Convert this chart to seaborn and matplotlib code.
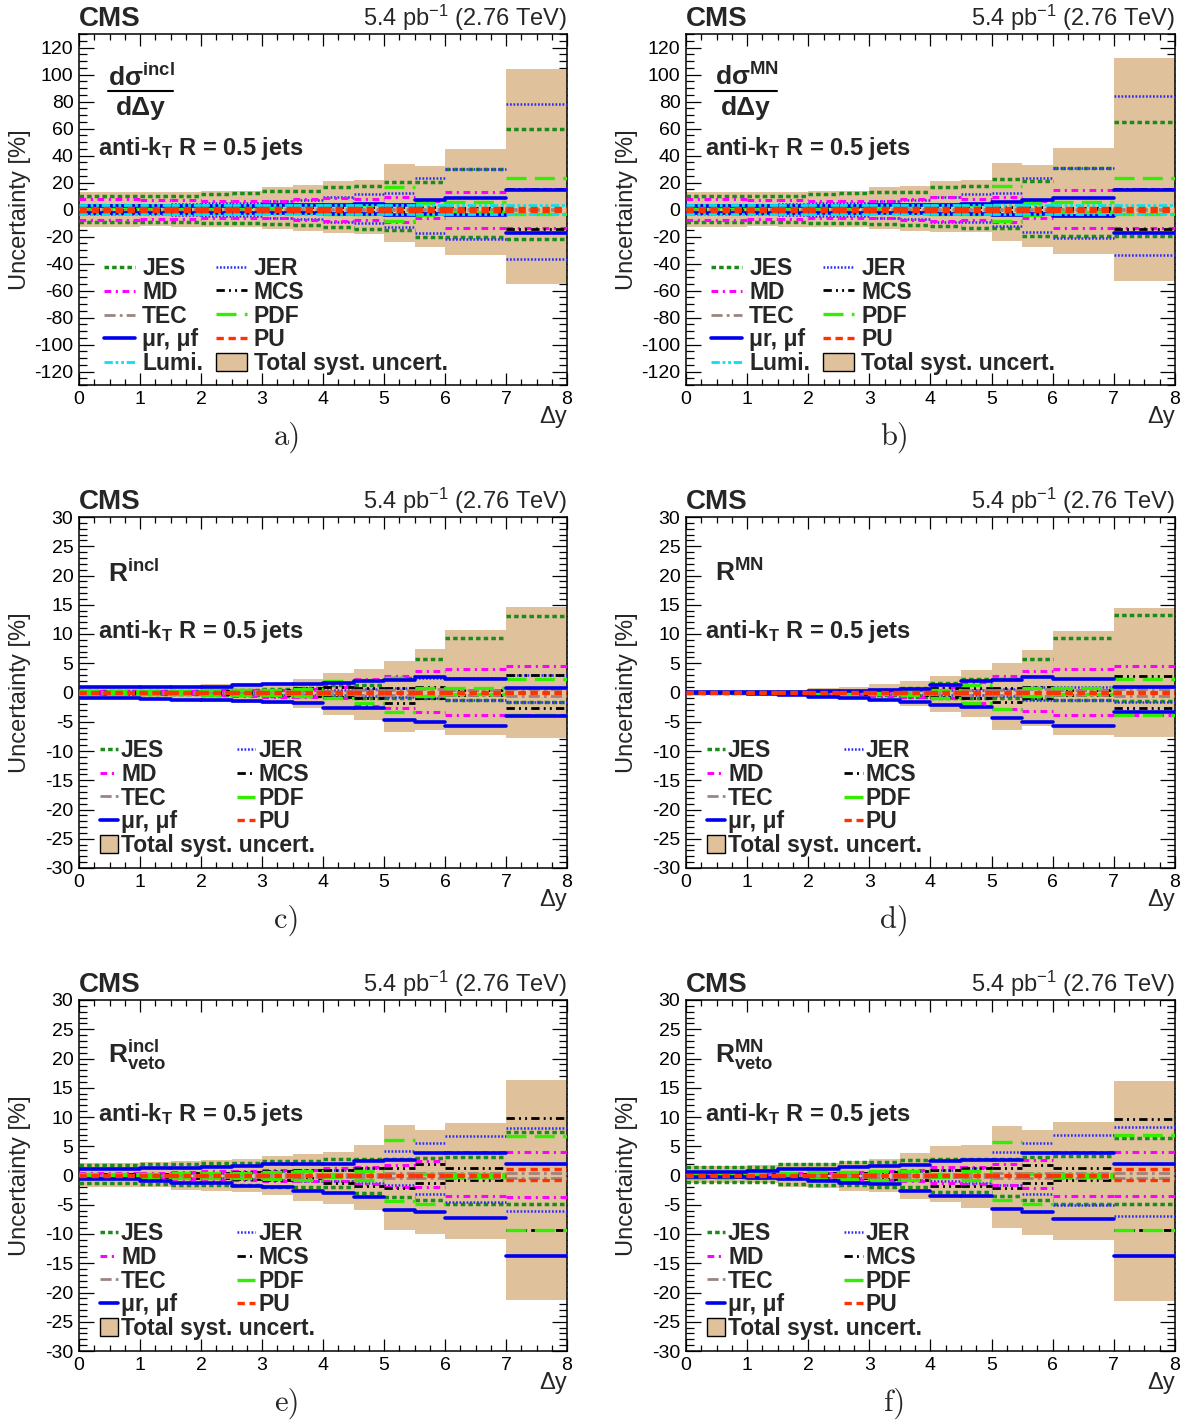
import matplotlib
matplotlib.use("Agg")
import matplotlib.pyplot as plt
import seaborn as sns
import pandas as pd
from matplotlib.lines import Line2D
from matplotlib.patches import Patch
from matplotlib.ticker import MultipleLocator

sns.set_style("ticks")
plt.rcParams['font.family'] = ['Liberation Sans', 'DejaVu Sans']
plt.rcParams['mathtext.default'] = 'regular'
plt.rcParams['axes.unicode_minus'] = False

# ---------------- data ----------------
EDGES = [0, 1, 1.5, 2, 2.5, 3, 3.5, 4, 4.5, 5, 5.5, 6, 7, 8]

A_UP = {
    'TOTAL': [13.2, 12.8, 12.8, 13.5, 14.0, 16.9, 18.1, 21.3, 21.8, 33.6, 32.1, 44.7, 104.3],
    'JES': [10.2, 10.0, 10.0, 11.8, 12.0, 13.7, 13.7, 16.9, 17.6, 20.7, 20.5, 29.9, 59.5],
    'JER': [3.5, 3.5, 4.0, 4.5, 5.0, 6.0, 7.0, 9.5, 11.2, 12.0, 23.0, 30.0, 78.4],
    'MD': [7.5, 7.0, 7.0, 6.0, 6.0, 6.5, 7.5, 8.3, 8.0, 9.0, 6.5, 13.2, 15.0],
    'MCS': [1.0, 1.0, 1.0, 1.0, 1.5, 1.5, 1.5, 1.5, 2.0, 2.0, 2.0, 1.0, 15.0],
    'TEC': [0.5, 0.5, 0.5, 0.5, 0.5, 0.5, 0.5, 0.6, 0.6, 0.6, 0.6, 0.6, 0.6],
    'PDF': [1.5, 1.5, 1.5, 2.0, 2.0, 2.0, 2.5, 3.0, 3.0, 16.9, 4.6, 5.8, 23.5],
    'MU': [2.8, 2.8, 2.8, 2.8, 2.8, 3.0, 3.0, 3.5, 4.0, 3.0, 7.0, 8.7, 14.4],
    'LUMI': [3.7, 3.7, 3.7, 3.7, 3.7, 3.7, 3.7, 3.7, 3.7, 3.7, 3.7, 3.7, 3.7],
    'PU': [1.0, 1.0, 1.0, 1.0, 1.0, 1.0, 1.0, 1.0, 1.0, 1.0, 1.0, 1.0, 1.0],
}
A_DN = {
    'TOTAL': [-12.7, -12.4, -12.6, -12.8, -13.2, -14.4, -15.8, -17.6, -18.0, -23.8, -28.0, -33.6, -55.0],
    'JES': [-9.0, -9.0, -9.5, -10.2, -10.2, -11.0, -11.5, -13.0, -14.4, -15.1, -20.0, -20.0, -22.0],
    'JER': [-3.5, -3.5, -4.0, -4.5, -5.0, -6.0, -7.0, -9.5, -9.7, -12.7, -17.6, -22.0, -36.3],
    'MD': [-7.5, -7.0, -7.0, -6.0, -6.0, -6.5, -7.5, -8.2, -8.0, -9.0, -6.5, -13.4, -14.0],
    'MCS': [-1.0, -1.0, -1.0, -1.0, -1.5, -1.5, -1.5, -1.5, -2.0, -2.0, -2.0, -1.0, -14.6],
    'TEC': [-0.5, -0.5, -0.5, -0.5, -0.5, -0.5, -0.5, -0.6, -0.6, -0.6, -0.6, -0.6, -0.6],
    'PDF': [-1.5, -1.5, -1.5, -2.0, -2.0, -2.0, -2.5, -3.0, -3.0, -8.2, -4.0, -2.0, -3.0],
    'MU': [-2.4, -2.4, -2.4, -2.4, -2.4, -2.6, -2.8, -3.0, -3.5, -4.0, -3.6, -4.1, -17.6],
    'LUMI': [-3.7, -3.7, -3.7, -3.7, -3.7, -3.7, -3.7, -3.7, -3.7, -3.7, -3.7, -3.7, -3.7],
    'PU': [-1.0, -1.0, -1.0, -1.0, -1.0, -1.0, -1.0, -1.0, -1.0, -1.0, -1.0, -1.0, -1.0],
}

B_UP = {
    'TOTAL': [13.2, 12.8, 12.8, 13.5, 14.0, 16.9, 17.4, 21.3, 21.8, 34.1, 32.9, 45.9, 112.4],
    'JES': [10.2, 10.0, 10.0, 11.8, 12.0, 13.2, 13.2, 16.9, 17.6, 22.5, 21.0, 30.6, 64.9],
    'JER': [3.5, 3.5, 4.0, 4.5, 5.0, 6.0, 7.0, 9.5, 11.4, 12.0, 23.5, 30.6, 84.0],
    'MD': [7.5, 7.0, 7.0, 6.0, 6.0, 6.5, 7.5, 9.5, 8.0, 9.5, 6.5, 14.4, 15.0],
    'MCS': [1.0, 1.0, 1.0, 1.0, 1.5, 1.5, 1.5, 1.5, 2.0, 2.0, 2.0, 1.0, 15.0],
    'TEC': [0.5, 0.5, 0.5, 0.5, 0.5, 0.5, 0.5, 0.6, 0.6, 0.6, 0.6, 0.6, 0.6],
    'PDF': [1.5, 1.5, 1.5, 2.0, 2.0, 2.0, 2.5, 3.0, 3.0, 17.4, 4.6, 5.8, 23.5],
    'MU': [2.8, 2.8, 2.8, 2.8, 2.8, 3.0, 3.0, 3.5, 4.0, 5.3, 7.0, 8.3, 14.4],
    'LUMI': [3.7, 3.7, 3.7, 3.7, 3.7, 3.7, 3.7, 3.7, 3.7, 3.7, 3.7, 3.7, 3.7],
    'PU': [1.0, 1.0, 1.0, 1.0, 1.0, 1.0, 1.0, 1.0, 1.0, 1.0, 1.0, 1.0, 1.0],
}
B_DN = {
    'TOTAL': [-12.7, -12.4, -12.6, -12.8, -13.2, -14.4, -15.8, -16.9, -16.4, -23.0, -27.5, -32.9, -52.8],
    'JES': [-9.0, -9.0, -9.5, -10.2, -10.2, -11.0, -11.5, -12.0, -13.9, -13.9, -19.6, -19.6, -19.3],
    'JER': [-3.5, -3.5, -4.0, -4.5, -5.0, -6.0, -7.0, -9.5, -9.5, -12.5, -16.8, -21.3, -34.0],
    'MD': [-7.5, -7.0, -7.0, -6.0, -6.0, -6.5, -7.5, -8.5, -8.0, -9.0, -6.5, -13.4, -14.0],
    'MCS': [-1.0, -1.0, -1.0, -1.0, -1.5, -1.5, -1.5, -1.5, -2.0, -2.0, -2.0, -1.0, -14.6],
    'TEC': [-0.5, -0.5, -0.5, -0.5, -0.5, -0.5, -0.5, -0.6, -0.6, -0.6, -0.6, -0.6, -0.6],
    'PDF': [-1.5, -1.5, -1.5, -2.0, -2.0, -2.0, -2.5, -3.0, -3.0, -8.5, -4.0, -2.0, -3.0],
    'MU': [-2.4, -2.4, -2.4, -2.4, -2.4, -2.6, -2.8, -3.0, -3.5, -4.0, -3.6, -4.6, -17.6],
    'LUMI': [-3.7, -3.7, -3.7, -3.7, -3.7, -3.7, -3.7, -3.7, -3.7, -3.7, -3.7, -3.7, -3.7],
    'PU': [-1.0, -1.0, -1.0, -1.0, -1.0, -1.0, -1.0, -1.0, -1.0, -1.0, -1.0, -1.0, -1.0],
}

C_UP = {
    'TOTAL': [1.0, 1.0, 1.0, 1.45, 1.6, 1.7, 2.3, 3.3, 4.1, 5.4, 7.4, 10.7, 14.6],
    'JES': [0.3, 0.3, 0.3, 0.4, 0.5, 0.6, 0.7, 1.2, 1.2, 2.4, 5.7, 9.4, 13.1],
    'JER': [0.2, 0.2, 0.2, 0.3, 0.3, 0.4, 0.5, 0.5, 0.6, 0.8, 2.5, 2.4, 3.0],
    'MD': [0.3, 0.3, 0.3, 0.4, 0.4, 0.5, 0.6, 1.0, 2.3, 2.8, 3.6, 4.0, 4.5],
    'MCS': [0.1, 0.1, 0.1, 0.2, 0.3, 0.5, 0.8, 1.0, 0.7, 0.8, 1.0, 0.5, 3.0],
    'TEC': [0.1, 0.1, 0.1, 0.1, 0.2, 0.2, 0.3, 0.3, 0.4, 0.5, 0.6, 0.5, 0.6],
    'PDF': [0.3, 0.3, 0.3, 0.4, 0.4, 0.4, 0.6, 1.9, 2.2, 2.4, 0.7, 0.7, 2.3],
    'MU': [1.0, 0.9, 0.9, 1.0, 1.2, 1.4, 1.5, 1.7, 1.9, 2.2, 2.7, 2.3, 0.7],
    'PU': [0.05, 0.05, 0.05, 0.05, 0.05, 0.05, 0.05, 0.05, 0.05, 0.05, 0.05, 0.05, 0.05],
}
C_DN = {
    'TOTAL': [-1.1, -1.3, -1.4, -1.7, -1.85, -2.0, -2.7, -3.8, -4.7, -6.8, -6.4, -7.3, -7.7],
    'JES': [-0.3, -0.3, -0.3, -0.4, -0.5, -0.6, -0.6, -0.8, -0.9, -1.0, -1.0, -1.2, -1.6],
    'JER': [-0.2, -0.2, -0.2, -0.3, -0.3, -0.4, -0.5, -0.5, -0.6, -0.8, -1.0, -1.2, -1.7],
    'MD': [-0.3, -0.3, -0.3, -0.4, -0.6, -0.7, -0.8, -1.0, -2.3, -2.7, -3.3, -3.8, -3.9],
    'MCS': [-0.1, -0.1, -0.1, -0.2, -0.3, -0.5, -0.6, -0.8, -1.0, -1.85, -1.0, -0.5, -2.7],
    'TEC': [-0.1, -0.1, -0.1, -0.1, -0.2, -0.2, -0.3, -0.3, -0.4, -0.5, -0.6, -0.5, -0.6],
    'PDF': [-0.3, -0.3, -0.3, -0.4, -0.4, -0.4, -0.6, -1.0, -1.85, -3.3, -0.6, -0.3, -3.8],
    'MU': [-0.9, -1.1, -1.3, -1.3, -1.5, -1.7, -1.85, -2.6, -2.6, -4.7, -5.1, -5.7, -4.0],
    'PU': [-0.05, -0.05, -0.05, -0.05, -0.05, -0.05, -0.05, -0.05, -0.05, -0.05, -0.05, -0.05, -0.05],
}

D_UP = {
    'TOTAL': [0.2, 0.4, 0.5, 0.7, 1.0, 1.45, 2.0, 2.9, 3.85, 5.0, 7.3, 10.5, 14.4],
    'JES': [0.05, 0.1, 0.15, 0.2, 0.3, 0.5, 0.8, 1.6, 2.3, 2.3, 5.7, 9.4, 13.2],
    'JER': [0.05, 0.1, 0.1, 0.2, 0.2, 0.3, 0.5, 0.5, 0.5, 0.6, 1.0, 1.0, 1.0],
    'MD': [0.05, 0.1, 0.1, 0.2, 0.3, 0.3, 0.5, 1.0, 1.8, 2.8, 3.6, 4.0, 4.5],
    'MCS': [0.05, 0.05, 0.1, 0.1, 0.2, 0.3, 0.5, 0.8, 0.7, 0.8, 1.0, 0.5, 2.8],
    'TEC': [0.05, 0.05, 0.05, 0.1, 0.1, 0.2, 0.2, 0.3, 0.4, 0.5, 0.6, 0.5, 0.6],
    'PDF': [0.05, 0.1, 0.1, 0.2, 0.2, 0.3, 0.4, 0.5, 1.2, 2.3, 0.7, 0.7, 2.3],
    'MU': [0.05, 0.1, 0.15, 0.2, 0.3, 0.5, 0.6, 1.3, 1.9, 2.2, 2.7, 2.3, 0.9],
    'PU': [0.05, 0.05, 0.05, 0.05, 0.05, 0.05, 0.05, 0.05, 0.05, 0.05, 0.05, 0.05, 0.05],
}
D_DN = {
    'TOTAL': [-0.2, -0.4, -0.6, -0.8, -1.1, -1.4, -2.25, -3.4, -4.2, -6.4, -5.8, -7.3, -7.6],
    'JES': [-0.05, -0.1, -0.15, -0.2, -0.3, -0.5, -0.7, -0.9, -1.0, -1.0, -1.1, -1.2, -1.4],
    'JER': [-0.05, -0.1, -0.1, -0.2, -0.2, -0.3, -0.5, -0.5, -0.5, -0.6, -1.2, -1.2, -1.6],
    'MD': [-0.05, -0.1, -0.1, -0.2, -0.3, -0.6, -0.8, -1.0, -1.8, -2.8, -3.2, -3.8, -3.9],
    'MCS': [-0.05, -0.05, -0.1, -0.1, -0.2, -0.3, -0.5, -0.8, -1.0, -1.7, -1.0, -0.5, -2.7],
    'TEC': [-0.05, -0.05, -0.05, -0.1, -0.1, -0.2, -0.2, -0.3, -0.4, -0.5, -0.6, -0.5, -0.6],
    'PDF': [-0.05, -0.1, -0.1, -0.2, -0.2, -0.3, -0.4, -1.0, -1.85, -2.9, -0.6, -0.3, -3.8],
    'MU': [-0.1, -0.2, -0.4, -0.7, -0.9, -1.3, -1.6, -2.2, -2.5, -4.4, -5.0, -5.8, -3.3],
    'PU': [-0.05, -0.05, -0.05, -0.05, -0.05, -0.05, -0.05, -0.05, -0.05, -0.05, -0.05, -0.05, -0.05],
}

E_UP = {
    'TOTAL': [2.1, 2.25, 2.5, 2.65, 2.9, 3.3, 3.7, 4.1, 5.2, 8.6, 7.7, 9.0, 16.4],
    'JES': [1.8, 2.0, 2.0, 2.1, 2.1, 2.4, 2.5, 2.8, 2.9, 2.8, 3.0, 3.1, 7.4],
    'JER': [0.3, 0.3, 0.4, 0.5, 0.6, 0.8, 0.9, 1.0, 1.2, 4.2, 5.5, 6.8, 8.1],
    'MD': [0.5, 0.5, 0.6, 0.7, 0.8, 0.9, 1.0, 1.3, 1.5, 1.8, 2.5, 4.1, 4.1],
    'MCS': [0.3, 0.3, 0.4, 0.5, 0.6, 0.7, 0.9, 1.0, 1.2, 1.2, 1.9, 1.2, 9.8],
    'TEC': [0.1, 0.1, 0.1, 0.2, 0.2, 0.2, 0.3, 0.3, 0.3, 0.4, 0.4, 0.4, 0.5],
    'PDF': [0.3, 0.3, 0.4, 0.5, 0.5, 0.6, 0.7, 0.3, 0.7, 6.1, 0.3, 0.3, 6.8],
    'MU': [1.1, 1.2, 1.2, 1.5, 1.7, 1.9, 1.9, 2.0, 2.5, 2.65, 3.9, 3.8, 1.9],
    'PU': [0.1, 0.1, 0.1, 0.1, 0.1, 0.1, 0.1, 0.1, 0.1, 0.1, 0.1, 0.1, 1.1],
}
E_DN = {
    'TOTAL': [-1.9, -2.0, -2.5, -2.6, -2.9, -3.3, -4.3, -4.8, -5.9, -9.3, -10.0, -10.9, -21.2],
    'JES': [-1.2, -1.45, -1.6, -1.6, -1.6, -1.9, -2.0, -2.0, -3.0, -3.6, -4.2, -4.9, -4.9],
    'JER': [-0.3, -0.3, -0.4, -0.5, -0.6, -0.8, -0.9, -1.0, -1.2, -1.6, -3.2, -4.6, -6.0],
    'MD': [-0.5, -0.5, -0.6, -0.7, -0.8, -0.9, -1.0, -1.0, -1.5, -1.9, -1.9, -3.5, -3.6],
    'MCS': [-0.3, -0.3, -0.4, -0.5, -0.6, -0.7, -0.5, -1.3, -1.8, -2.2, -1.3, -0.8, -9.3],
    'TEC': [-0.1, -0.1, -0.1, -0.2, -0.2, -0.2, -0.3, -0.3, -0.3, -0.4, -0.4, -0.4, -0.5],
    'PDF': [-0.3, -0.3, -0.4, -0.5, -0.5, -0.6, -0.7, -0.3, -0.7, -4.4, -4.9, -0.3, -9.3],
    'MU': [-0.6, -0.9, -1.2, -1.35, -1.75, -1.9, -2.6, -3.0, -3.6, -5.9, -6.2, -7.3, -13.8],
    'PU': [-0.1, -0.1, -0.1, -0.1, -0.1, -0.1, -0.1, -0.1, -0.1, -0.1, -0.1, -0.1, -0.8],
}

F_UP = {
    'TOTAL': [1.6, 1.8, 2.1, 2.2, 2.5, 2.8, 3.9, 5.0, 5.2, 8.5, 7.8, 9.1, 16.2],
    'JES': [1.5, 1.5, 1.95, 2.0, 2.25, 2.25, 2.6, 2.8, 2.9, 2.9, 3.1, 3.3, 6.4],
    'JER': [0.2, 0.2, 0.3, 0.4, 0.5, 0.7, 0.8, 1.0, 1.2, 4.1, 5.5, 6.9, 8.3],
    'MD': [0.3, 0.3, 0.4, 0.5, 0.6, 0.8, 1.0, 1.5, 1.5, 2.0, 2.6, 4.1, 4.1],
    'MCS': [0.2, 0.2, 0.3, 0.4, 0.5, 0.6, 0.8, 1.0, 1.2, 1.2, 1.8, 1.2, 9.7],
    'TEC': [0.1, 0.1, 0.1, 0.2, 0.2, 0.2, 0.3, 0.3, 0.3, 0.4, 0.4, 0.4, 0.5],
    'PDF': [0.4, 0.4, 0.5, 0.6, 0.6, 0.7, 0.7, 0.3, 0.7, 5.8, 0.3, 0.3, 6.9],
    'MU': [0.65, 0.7, 1.1, 1.1, 1.5, 1.7, 1.8, 2.4, 2.6, 2.6, 3.9, 3.8, 1.9],
    'PU': [0.1, 0.1, 0.1, 0.1, 0.1, 0.1, 0.1, 0.1, 0.1, 0.1, 0.1, 0.1, 1.1],
}
F_DN = {
    'TOTAL': [-1.2, -1.35, -1.9, -2.2, -2.65, -2.9, -4.1, -4.5, -5.6, -9.0, -10.1, -11.0, -21.4],
    'JES': [-1.05, -1.1, -1.45, -1.6, -1.7, -1.9, -1.9, -2.9, -2.9, -3.5, -4.2, -4.8, -4.8],
    'JER': [-0.2, -0.2, -0.3, -0.4, -0.5, -0.7, -0.8, -1.0, -1.2, -1.6, -3.2, -5.0, -6.9],
    'MD': [-0.3, -0.3, -0.4, -0.5, -0.6, -0.8, -1.0, -1.2, -1.5, -1.6, -2.2, -3.5, -3.5],
    'MCS': [-0.2, -0.2, -0.3, -0.4, -0.5, -0.6, -0.8, -1.8, -1.8, -2.2, -1.3, -0.8, -9.3],
    'TEC': [-0.1, -0.1, -0.1, -0.2, -0.2, -0.2, -0.3, -0.3, -0.3, -0.4, -0.4, -0.4, -0.5],
    'PDF': [-0.4, -0.4, -0.5, -0.6, -0.6, -0.7, -0.7, -0.3, -0.7, -4.2, -4.9, -0.3, -9.3],
    'MU': [-0.2, -0.5, -0.6, -0.9, -1.2, -1.45, -2.6, -3.45, -3.5, -5.8, -6.2, -7.4, -13.8],
    'PU': [-0.1, -0.1, -0.1, -0.1, -0.1, -0.1, -0.1, -0.1, -0.1, -0.1, -0.1, -0.1, -0.8],
}

LABELS = {'JES': 'JES', 'JER': 'JER', 'MD': 'MD', 'MCS': 'MCS', 'TEC': 'TEC',
          'PDF': 'PDF', 'MU': 'μr, μf', 'PU': 'PU', 'LUMI': 'Lumi.'}

# ---------------- styles ----------------
BAND = '#dfc29c'
STYLE = {
    'JES': dict(color='#1b8c1b', ls=(0, (1.3, 0.9)), lw=2.5),
    'JER': dict(color='#2a2aff', ls=(0, (0.7, 0.7)), lw=1.8),
    'MD': dict(color='#ff00ff', ls=(0, (2.2, 1.5, 0.7, 1.5)), lw=2.2),
    'MCS': dict(color='black', ls=(0, (3.0, 1.5, 0.7, 1.5, 0.7, 1.5)), lw=2.0),
    'TEC': dict(color='#a08282', ls=(0, (4.0, 1.5, 1.0, 1.5)), lw=2.0),
    'PDF': dict(color='#33ee00', ls=(0, (6.0, 2.5)), lw=2.4),
    'MU': dict(color='#0000ee', ls='-', lw=2.6),
    'LUMI': dict(color='#00e5f0', ls=(0, (3.0, 1.0, 1.0, 1.0, 1.0, 1.0)), lw=2.0),
    'PU': dict(color='#ff3300', ls=(0, (2.2, 1.4)), lw=2.4),
}
DRAW_ORDER = ['JES', 'JER', 'MD', 'MCS', 'TEC', 'PDF', 'MU', 'LUMI', 'PU']


def segments(up, dn):
    rows = []
    seg = 0
    for vals in (up, dn):
        for i, v in enumerate(vals):
            rows.append((EDGES[i], v, seg))
            rows.append((EDGES[i + 1], v, seg))
            seg += 1
    return pd.DataFrame(rows, columns=['x', 'y', 'seg'])


fig = plt.figure(figsize=(11.97, 14.23), dpi=100)
W, H = 1197.0, 1423.0


def make_axes(col, row):
    x0 = 79 if col == 0 else 686
    x1 = 567 if col == 0 else 1175
    tops = [34, 517, 1000]
    bots = [385, 868, 1351]
    return fig.add_axes([x0 / W, 1 - bots[row] / H, (x1 - x0) / W, (bots[row] - tops[row]) / H])


PANELS = [
    dict(col=0, row=0, up=A_UP, dn=A_DN, lim=130, maj=20, mnr=5, kind='dsig', tag='incl', letter='a)'),
    dict(col=1, row=0, up=B_UP, dn=B_DN, lim=130, maj=20, mnr=5, kind='dsig', tag='MN', letter='b)'),
    dict(col=0, row=1, up=C_UP, dn=C_DN, lim=30, maj=5, mnr=1, kind='R', tag='incl', letter='c)'),
    dict(col=1, row=1, up=D_UP, dn=D_DN, lim=30, maj=5, mnr=1, kind='R', tag='MN', letter='d)'),
    dict(col=0, row=2, up=E_UP, dn=E_DN, lim=30, maj=5, mnr=1, kind='Rveto', tag='incl', letter='e)'),
    dict(col=1, row=2, up=F_UP, dn=F_DN, lim=30, maj=5, mnr=1, kind='Rveto', tag='MN', letter='f)'),
]

for p in PANELS:
    ax = make_axes(p['col'], p['row'])
    up, dn = p['up'], p['dn']
    ax.fill_between(EDGES, dn['TOTAL'] + [dn['TOTAL'][-1]], up['TOTAL'] + [up['TOTAL'][-1]],
                    step='post', facecolor=BAND, edgecolor='none', linewidth=0, zorder=1)
    for key in DRAW_ORDER:
        if key not in up:
            continue
        st = STYLE[key]
        sns.lineplot(data=segments(up[key], dn[key]), x='x', y='y', units='seg', estimator=None,
                     sort=False, color=st['color'], linestyle=st['ls'], linewidth=st['lw'],
                     ax=ax, legend=False, zorder=3)
    ax.set_xlim(0, 8)
    ax.set_ylim(-p['lim'], p['lim'])
    ax.set_xlabel('')
    ax.set_ylabel('')
    ax.xaxis.set_major_locator(MultipleLocator(1))
    ax.xaxis.set_minor_locator(MultipleLocator(0.25))
    ax.yaxis.set_major_locator(MultipleLocator(p['maj']))
    ax.yaxis.set_minor_locator(MultipleLocator(p['mnr']))
    ax.tick_params(which='both', direction='in', top=True, right=True, width=0.9,
                   labelsize=14, colors='black')
    ax.tick_params(axis='y', which='major', length=10.5, pad=4)
    ax.tick_params(axis='y', which='minor', length=5.5)
    ax.tick_params(axis='x', which='major', length=8.5, pad=4)
    ax.tick_params(axis='x', which='minor', length=4.5)
    for s in ax.spines.values():
        s.set_linewidth(1.1)
        s.set_color('black')

    # labels
    ax.text(-0.12, 0.5, 'Uncertainty [%]', rotation=90, ha='center', va='center',
            fontsize=17, transform=ax.transAxes)
    ax.text(1.0, -0.092, 'Δy', ha='right', va='center', fontsize=17, transform=ax.transAxes)
    ax.text(0.0, 1.022, 'CMS', ha='left', va='baseline', fontsize=20, fontweight='bold',
            transform=ax.transAxes)
    ax.text(1.0, 1.022, '5.4 pb$^{-1}$ (2.76 TeV)', ha='right', va='baseline', fontsize=17,
            transform=ax.transAxes)
    ax.text(0.426, -0.148, p['letter'], ha='center', va='center', fontsize=22,
            family=['cmr10', 'DejaVu Serif'], transform=ax.transAxes)

    # panel tag
    if p['kind'] == 'dsig':
        ax.text(0.059, 0.852, 'dσ$^{%s}$' % p['tag'], ha='left', va='baseline', fontsize=19,
                fontweight='bold', transform=ax.transAxes)
        x_end = 0.193 if p['tag'] == 'incl' else 0.186
        ax.add_line(Line2D([0.059, x_end], [0.838, 0.838], color='black', lw=1.5,
                           transform=ax.transAxes))
        ax.text((0.059 + x_end) / 2, 0.769, 'dΔy', ha='center', va='baseline', fontsize=19,
                fontweight='bold', transform=ax.transAxes)
    elif p['kind'] == 'R':
        ax.text(0.059, 0.816, 'R$^{%s}$' % p['tag'], ha='left', va='baseline', fontsize=19,
                fontweight='bold', transform=ax.transAxes)
    else:
        ax.text(0.059, 0.82, '$R^{%s}_{veto}$' % p['tag'], ha='left', va='baseline', fontsize=19,
                fontweight='bold', transform=ax.transAxes)
    ax.text(0.039, 0.656, 'anti-k$_{T}$ R = 0.5 jets', ha='left', va='baseline', fontsize=17,
            fontweight='bold', transform=ax.transAxes)

    # legends
    def h(key):
        st = STYLE[key]
        return Line2D([], [], color=st['color'], linestyle=st['ls'], linewidth=st['lw'])
    tot = Patch(facecolor=BAND, edgecolor='black', linewidth=1.0)
    lp = dict(frameon=False, borderpad=0, borderaxespad=0, labelspacing=0.03,
              prop=dict(family=['Liberation Sans'], weight='bold', size=16.5))
    if p['kind'] == 'dsig':
        c1 = ['JES', 'MD', 'TEC', 'MU', 'LUMI']
        c2 = ['JER', 'MCS', 'PDF', 'PU']
        l1 = ax.legend([h(k) for k in c1], [LABELS[k] for k in c1], loc='upper left',
                       bbox_to_anchor=(0.052, 0.364), handlelength=1.35, handletextpad=0.3, **lp)
        ax.add_artist(l1)
        ax.legend([h(k) for k in c2] + [tot], [LABELS[k] for k in c2] + ['Total syst. uncert.'],
                  loc='upper left', bbox_to_anchor=(0.281, 0.364), handlelength=1.35,
                  handleheight=0.85, handletextpad=0.3, **lp)
    else:
        c1 = ['JES', 'MD', 'TEC', 'MU']
        c2 = ['JER', 'MCS', 'PDF', 'PU']
        l1 = ax.legend([h(k) for k in c1] + [tot], [LABELS[k] for k in c1] + ['Total syst. uncert.'],
                       loc='upper left', bbox_to_anchor=(0.043, 0.367), handlelength=0.8,
                       handleheight=0.8, handletextpad=0.12, **lp)
        ax.add_artist(l1)
        ax.legend([h(k) for k in c2], [LABELS[k] for k in c2], loc='upper left',
                  bbox_to_anchor=(0.324, 0.367), handlelength=0.8, handletextpad=0.12, **lp)

fig.savefig('out.png', dpi=100)
